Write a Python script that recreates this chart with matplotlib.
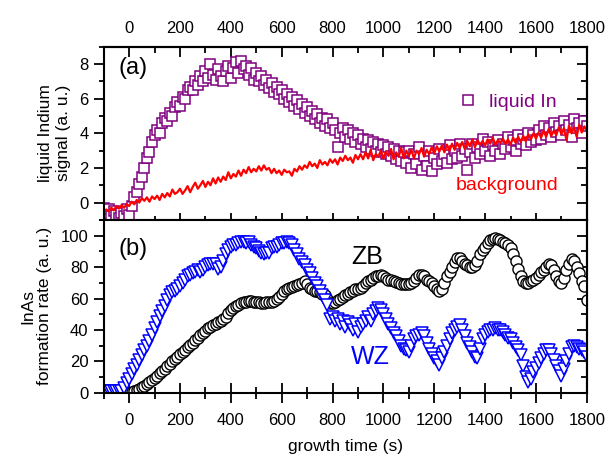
import numpy as np
import matplotlib
matplotlib.use("Agg")
import matplotlib.pyplot as plt
from matplotlib.ticker import MultipleLocator

plt.rcParams['font.family'] = ['Liberation Sans', 'DejaVu Sans']

# time axis (s), one sample every 10 s
t_all = np.arange(-100, 1801, 10)
t_zb = np.arange(0, 1801, 10)

liquid_in = [
    -0.3, -0.6, -0.4, -0.8, -0.5, -0.7, -0.9, -0.6, -0.8, -0.4,
    -0.7, -0.2, 0.3, 0.6, 1.1, 1.5, 2.0, 2.6, 2.9, 3.5,
    3.9, 4.2, 4.0, 4.6, 4.9, 4.7, 5.2, 5.0, 5.5, 5.8,
    5.6, 6.1, 6.0, 6.5, 6.7, 6.5, 7.0, 6.8, 7.3, 7.0,
    7.6, 7.2, 8.0, 7.4, 7.1, 7.7, 7.3, 7.0, 7.6, 7.9,
    7.2, 7.8, 8.1, 7.5, 8.2, 7.7, 7.9, 7.4, 7.8, 7.1,
    7.5, 7.0, 7.3, 6.8, 7.1, 6.6, 6.9, 6.4, 6.7, 6.3,
    6.5, 6.0, 6.3, 5.8, 6.1, 5.6, 5.9, 5.4, 5.7, 5.2,
    5.5, 5.0, 5.3, 4.8, 5.1, 4.6, 4.9, 4.4, 4.8, 4.3,
    4.6, 4.2, 3.2, 4.0, 4.3, 3.8, 4.2, 3.7, 4.0, 3.5,
    3.9, 3.4, 3.7, 3.2, 3.6, 3.1, 3.5, 3.0, 3.4, 2.9,
    3.3, 2.8, 3.2, 2.7, 3.1, 2.5, 3.0, 2.4, 2.9, 2.3,
    3.0, 2.0, 2.8, 2.2, 3.2, 1.9, 2.7, 2.1, 3.0, 1.8,
    2.6, 2.2, 3.1, 2.4, 2.8, 2.3, 3.3, 2.5, 3.0, 2.6,
    3.4, 2.7, 3.1, 1.9, 2.9, 3.4, 2.6, 3.2, 2.8, 3.7,
    3.0, 3.5, 2.7, 3.3, 3.0, 3.6, 2.8, 3.4, 3.1, 3.8,
    3.2, 3.6, 3.0, 3.9, 3.4, 3.7, 3.3, 4.0, 3.5, 3.9,
    3.6, 4.2, 3.7, 4.4, 3.9, 4.3, 3.8, 4.6, 4.1, 4.4,
    3.9, 4.7, 4.2, 4.5, 3.8, 4.8, 4.3, 4.6, 4.0, 4.7,
    4.4,
]

background = [
    -0.6, -0.4, -0.5, -0.3, -0.45, -0.2, -0.35, -0.15, -0.3, -0.1,
    -0.2, 0.05, -0.1, 0.15, 0.0, 0.25, 0.1, 0.3, 0.05, 0.35,
    0.2, 0.4, 0.15, 0.5, 0.3, 0.55, 0.35, 0.75, 0.5, 0.6,
    0.8, 0.5, 0.7, 0.95, 0.6, 0.9, 1.15, 0.8, 1.0, 1.25,
    0.9, 1.2, 1.0, 1.4, 1.1, 1.45, 1.2, 1.5, 1.3, 1.75,
    1.4, 1.65, 1.5, 1.85, 1.55, 1.9, 1.7, 2.05, 1.75, 1.95,
    1.8, 2.1, 1.85, 2.15, 1.9, 2.0, 1.7, 1.95, 1.7, 1.85,
    1.6, 1.9, 1.75, 1.8, 1.55, 1.95, 1.8, 2.1, 1.9, 2.15,
    2.0, 2.35, 2.1, 2.25, 2.0, 2.45, 2.2, 2.35, 2.15, 2.5,
    2.3, 2.5, 2.2, 2.6, 2.4, 2.7, 2.45, 2.6, 2.3, 2.75,
    2.5, 2.8, 2.5, 2.9, 2.55, 3.05, 2.45, 2.8, 2.65, 3.0,
    2.55, 2.95, 2.7, 3.1, 2.5, 2.9, 2.65, 3.15, 2.55, 3.0,
    2.7, 3.05, 2.55, 3.0, 2.8, 3.15, 2.65, 3.05, 2.8, 3.2,
    2.85, 3.25, 2.95, 3.3, 2.9, 3.35, 3.0, 3.4, 3.05, 3.45,
    3.15, 3.5, 3.1, 3.55, 3.25, 3.65, 3.2, 3.6, 3.35, 3.55,
    3.3, 3.65, 3.4, 3.75, 3.35, 3.6, 3.45, 3.7, 3.4, 3.65,
    3.35, 3.75, 3.45, 3.8, 3.5, 3.85, 3.55, 3.95, 3.65, 4.0,
    3.7, 4.05, 3.75, 4.15, 3.8, 4.25, 3.85, 4.15, 3.9, 4.35,
    3.95, 4.3, 3.6, 4.45, 4.0, 4.35, 3.8, 4.5, 4.05, 4.4,
    4.15,
]

zb_rate = [
    0, 0.5, 1, 1.8, 2.6, 3.5, 4.5, 5.5, 6.7, 8.0,
    9.5, 11, 12.5, 14, 15.5, 17, 18.5, 20, 21.5, 23,
    24.5, 26, 27.5, 29, 30.5, 32, 33.5, 35, 36.5, 38,
    39.5, 41, 42, 43, 44, 45, 46, 47, 48.5, 51,
    53, 54, 55, 56, 57, 57.5, 58, 58.5, 58.5, 58,
    57.5, 57.5, 57, 57, 57.5, 58, 58, 58.5, 59.5, 61,
    63, 64.5, 66, 67, 67.5, 68, 68.5, 69, 70, 71,
    69, 67, 66, 65, 64.5, 64, 63, 62, 60, 57,
    57, 58, 59, 60, 61, 62, 63, 64, 65, 66,
    66, 67, 68, 70, 71, 72, 73, 74, 74.5, 75,
    74, 73, 72, 71.5, 71, 70.5, 70, 69.5, 69, 69,
    69, 70, 71, 73, 75, 75, 74, 72, 71, 70,
    68, 66, 65, 66, 70, 74, 77, 80, 83, 86,
    86, 84, 82, 81, 80, 80, 81, 84, 88, 91,
    93, 95, 97, 98, 98.5, 98, 97, 96, 95, 94,
    92, 88, 84, 79, 74, 71, 70, 70, 71, 72,
    73, 75, 77, 78, 80, 82, 81, 78, 74, 71,
    70, 73, 78, 82, 85, 84, 80, 76, 71, 68,
    59,
]

wz_rate = [
    1.5, 1.5, 1.5, 1.5, 1.5, 1.5, 1.5, 1.5, 3, 6,
    9, 12, 15, 18, 21, 24, 27, 30, 33, 37,
    41, 45, 49, 52, 55, 59, 62, 64, 65, 66,
    68, 70, 72, 74, 75, 76, 77, 78, 77, 78,
    80, 81, 82, 82, 82, 79, 80, 84, 88, 91,
    93, 94, 94, 95, 96, 96, 95, 96, 94, 93,
    92, 90, 89, 88, 89, 89, 92, 93, 93, 94,
    95, 95, 96, 95, 94, 91, 88, 85, 83, 81,
    78, 76, 73, 70, 68, 65, 62, 59, 56, 47,
    48, 46, 47, 44, 46, 42, 45, 43, 40, 44,
    39, 42, 44, 46, 48, 46, 50, 52, 54, 53,
    50, 47, 44, 41, 38, 36, 33, 30, 28, 27,
    26, 30, 34, 36, 37, 38, 36, 32, 28, 25,
    22, 20, 18, 22, 26, 30, 34, 38, 40, 42,
    43, 40, 36, 32, 29, 26, 23, 22, 28, 34,
    37, 39, 40, 40, 41, 40, 40, 39, 37, 35,
    34, 32, 29, 27, 24, 17, 10, 7, 9, 13,
    16, 19, 22, 25, 27, 27, 25, 21, 17, 14,
    11, 15, 20, 25, 29, 30, 29, 28, 27, 26,
    23,
]

PURPLE = '#800080'
RED = '#ff0000'
BLUE = '#0000ff'

fig = plt.figure(figsize=(6.1, 4.59), dpi=100)
ax1 = fig.add_axes([0.170, 0.521, 0.792, 0.377])
ax2 = fig.add_axes([0.170, 0.144, 0.792, 0.377], sharex=ax1)

# (a) liquid indium
sq, = ax1.plot(t_all, liquid_in, ls='none', marker='s', ms=6.5, mfc='white',
               mec=PURPLE, mew=1.1, label='liquid In')
ax1.plot(t_all, background, color=RED, lw=1.6)
ax1.set_ylim(-1, 9)
ax1.set_ylabel('liquid Indium\nsignal (a. u.)', fontsize=12.5, labelpad=6)
ax1.text(0.03, 0.88, '(a)', transform=ax1.transAxes, fontsize=17, va='center')
ax1.legend(handles=[sq], loc='center left', bbox_to_anchor=(0.714, 0.682),
           frameon=False, fontsize=14, handlelength=1.0, handletextpad=0.6,
           borderpad=0, labelcolor=PURPLE)
ax1.text(0.729, 0.20, 'background', transform=ax1.transAxes, color=RED,
         fontsize=14, va='center')

# (b) formation rates
ax2.plot(t_zb, zb_rate, ls='none', marker='o', ms=8, mfc='white',
         mec='black', mew=1.0)
ax2.plot(t_all, wz_rate, ls='none', marker='v', ms=8.5, mfc='white',
         mec=BLUE, mew=1.1)
ax2.set_ylim(0, 110)
ax2.set_ylabel('InAs\nformation rate (a. u.)', fontsize=12.5, labelpad=6)
ax2.set_xlabel('growth time (s)', fontsize=12.5, labelpad=8)
ax2.text(0.03, 0.83, '(b)', transform=ax2.transAxes, fontsize=17, va='center')
ax2.text(0.512, 0.786, 'ZB', transform=ax2.transAxes, fontsize=18, va='center')
ax2.text(0.512, 0.208, 'WZ', transform=ax2.transAxes, fontsize=18,
         va='center', color=BLUE)

ax1.set_xlim(-100, 1800)

# y tick steps (major, minor) per panel
for ax, (ymaj, ymin) in ((ax1, (2, 1)), (ax2, (20, 10))):
    ax.xaxis.set_major_locator(MultipleLocator(200))
    ax.xaxis.set_minor_locator(MultipleLocator(100))
    ax.yaxis.set_major_locator(MultipleLocator(ymaj))
    ax.yaxis.set_minor_locator(MultipleLocator(ymin))
    # left ticks point out, labels on the left
    ax.tick_params(axis='y', which='both', direction='out', left=True,
                   right=False, labelsize=12, width=1.3, pad=4)
    ax.tick_params(axis='y', which='major', length=7)
    ax.tick_params(axis='y', which='minor', length=3.6)
    for sp in ax.spines.values():
        sp.set_linewidth(1.5)
    # right ticks point in, no labels
    ry = ax.secondary_yaxis('right')
    ry.yaxis.set_major_locator(MultipleLocator(ymaj))
    ry.yaxis.set_minor_locator(MultipleLocator(ymin))
    ry.tick_params(which='both', direction='in', labelright=False, width=1.3)
    ry.tick_params(which='major', length=7)
    ry.tick_params(which='minor', length=4)
    ry.spines['right'].set_linewidth(1.5)

# shared boundary: ticks cross between the panels
ax1.tick_params(axis='x', which='both', direction='inout', bottom=True,
                top=False, labelbottom=False, labeltop=False, width=1.3)
ax1.tick_params(axis='x', which='major', length=9.5)
ax1.tick_params(axis='x', which='minor', length=6)

# top of panel (a): inward ticks with labels
tx = ax1.secondary_xaxis('top')
tx.xaxis.set_major_locator(MultipleLocator(200))
tx.xaxis.set_minor_locator(MultipleLocator(100))
tx.tick_params(which='both', direction='in', labelsize=12, width=1.3, pad=7.5)
tx.tick_params(which='major', length=7)
tx.tick_params(which='minor', length=4)
tx.spines['top'].set_linewidth(1.5)

# bottom of panel (b): ticks in and out
ax2.tick_params(axis='x', which='both', direction='inout', bottom=True,
                top=False, labelsize=12, width=1.3, pad=7.5)
ax2.tick_params(axis='x', which='major', length=13.7)
ax2.tick_params(axis='x', which='minor', length=8)

fig.savefig('out.png', dpi=100)
